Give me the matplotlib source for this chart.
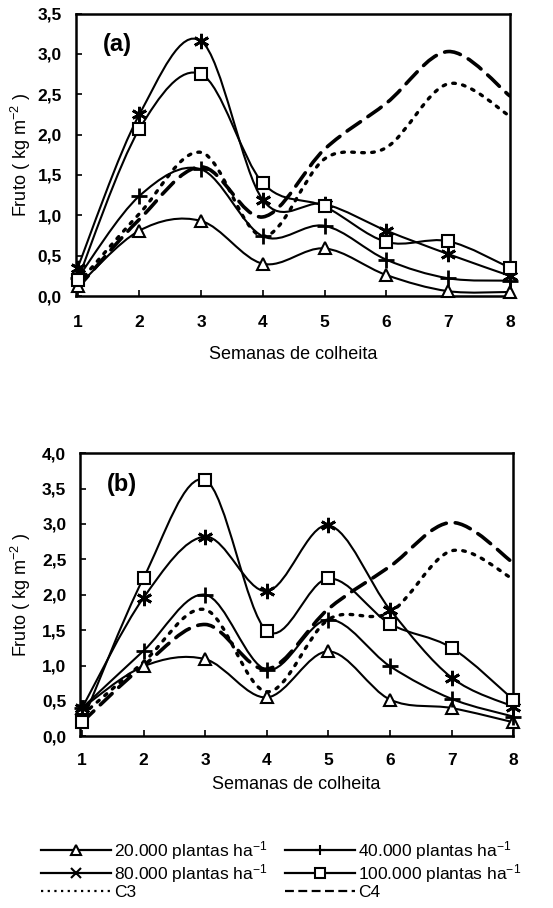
import matplotlib
matplotlib.use("Agg")
import matplotlib.pyplot as plt
from matplotlib.path import Path
from matplotlib.patches import PathPatch
from matplotlib.lines import Line2D
from matplotlib.ticker import FuncFormatter

plt.rcParams['font.family'] = ['Liberation Sans', 'DejaVu Sans']
plt.rcParams['mathtext.default'] = 'regular'

weeks = [1, 2, 3, 4, 5, 6, 7, 8]

# Panel (a)
a_20k = [0.12, 0.81, 0.93, 0.40, 0.59, 0.26, 0.06, 0.05]
a_40k = [0.22, 1.24, 1.57, 0.74, 0.87, 0.45, 0.22, 0.19]
a_80k = [0.35, 2.25, 3.16, 1.19, 1.14, 0.81, 0.52, 0.25]
a_100k = [0.20, 2.07, 2.75, 1.40, 1.11, 0.67, 0.68, 0.35]
a_c3 = [0.15, 1.02, 1.78, 0.74, 1.70, 1.84, 2.63, 2.23]
a_c4 = [0.10, 0.95, 1.60, 0.98, 1.82, 2.39, 3.03, 2.48]

# Panel (b)
b_20k = [0.40, 0.99, 1.09, 0.55, 1.20, 0.52, 0.40, 0.20]
b_40k = [0.40, 1.21, 2.00, 0.94, 1.65, 0.99, 0.53, 0.28]
b_80k = [0.40, 1.96, 2.82, 2.05, 2.98, 1.79, 0.83, 0.42]
b_100k = [0.20, 2.24, 3.62, 1.49, 2.23, 1.59, 1.25, 0.52]
b_c3 = [0.30, 1.05, 1.79, 0.63, 1.65, 1.75, 2.62, 2.22]
b_c4 = [0.20, 1.00, 1.58, 0.95, 1.80, 2.40, 3.02, 2.45]

labels = ["20.000 plantas ha$^{-1}$", "40.000 plantas ha$^{-1}$",
          "80.000 plantas ha$^{-1}$", "100.000 plantas ha$^{-1}$", "C3", "C4"]
ytick_a = [0.0, 0.5, 1.0, 1.5, 2.0, 2.5, 3.0, 3.5]
ytick_b = [0.0, 0.5, 1.0, 1.5, 2.0, 2.5, 3.0, 3.5, 4.0]


def smooth_path(xs, ys):
    pts = list(zip(xs, ys))
    n = len(pts)
    verts = [pts[0]]
    codes = [Path.MOVETO]
    for i in range(n - 1):
        p0 = pts[i - 1] if i > 0 else pts[i]
        p1 = pts[i]
        p2 = pts[i + 1]
        p3 = pts[i + 2] if i + 2 < n else pts[i + 1]
        c1 = (p1[0] + (p2[0] - p0[0]) / 6.0, p1[1] + (p2[1] - p0[1]) / 6.0)
        c2 = (p2[0] - (p3[0] - p1[0]) / 6.0, p2[1] - (p3[1] - p1[1]) / 6.0)
        verts += [c1, c2, p2]
        codes += [Path.CURVE4, Path.CURVE4, Path.CURVE4]
    return Path(verts, codes)


styles = [
    dict(ls='-', lw=1.5, marker='^', ms=8, mew=1.5),
    dict(ls='-', lw=1.5, marker='+', ms=11, mew=2.0),
    dict(ls='-', lw=1.5, marker=(6, 2, 0), ms=11, mew=2.0),
    dict(ls='-', lw=1.5, marker='s', ms=9, mew=1.5),
    dict(ls=(0, (0.8, 2.2)), lw=2.4, marker=None, ms=0, mew=0),
    dict(ls=(0, (4.5, 2.5)), lw=2.6, marker=None, ms=0, mew=0),
]

fmt = FuncFormatter(lambda v, p: f"{v:.1f}".replace('.', ','))

fig = plt.figure(figsize=(5.53, 9.08), dpi=100)
ax_a = fig.add_axes([0.137, 0.674, 0.785, 0.311])
ax_b = fig.add_axes([0.145, 0.189, 0.783, 0.312])


def draw(ax, series, yticks, tag, xpad, xlabelpad, ylabx):
    order = [4, 5, 0, 1, 2, 3]
    for k in order:
        ys = series[k]
        st = styles[k]
        patch = PathPatch(smooth_path(weeks, ys), fill=False, edgecolor='black',
                          lw=st['lw'], linestyle=st['ls'], capstyle='round',
                          transform=ax.transData, zorder=2)
        ax.add_patch(patch)
        if st['marker'] is not None:
            ax.plot(weeks, ys, linestyle='none', marker=st['marker'], ms=st['ms'],
                    mew=st['mew'], mfc='white', mec='black', zorder=3, clip_on=False)
    ax.set_xlim(0.97, 8.0)
    ax.set_ylim(yticks[0], yticks[-1])
    ax.set_xticks(weeks)
    ax.set_yticks(yticks)
    ax.yaxis.set_major_formatter(fmt)
    ax.tick_params(direction='in', length=4, width=1.2, labelsize=12.5)
    ax.tick_params(axis='x', pad=xpad)
    ax.tick_params(axis='y', pad=10)
    for lab in ax.get_xticklabels() + ax.get_yticklabels():
        lab.set_fontweight('bold')
    for sp in ax.spines.values():
        sp.set_linewidth(1.8)
    ax.set_xlabel("Semanas de colheita", fontsize=13, labelpad=xlabelpad)
    ax.set_ylabel("Fruto ( kg m$^{-2}$ )", fontsize=13)
    ax.yaxis.set_label_coords(ylabx, 0.5)
    ax.text(0.062, 0.89, tag, transform=ax.transAxes, fontsize=17,
            fontweight='bold', va='center', ha='left')


draw(ax_a, [a_20k, a_40k, a_80k, a_100k, a_c3, a_c4], ytick_a, "(a)", 14, 11, -0.099)
draw(ax_b, [b_20k, b_40k, b_80k, b_100k, b_c3, b_c4], ytick_b, "(b)", 12, 6, -0.109)

handles = []
leg_markers = ['^', '+', 'x', 's', None, None]
leg_ls = ['-', '-', '-', '-', (0, (1, 2)), (0, (4, 2))]
for k in range(6):
    handles.append(Line2D([0], [0], color='black', lw=1.6, linestyle=leg_ls[k],
                          marker=leg_markers[k], ms=7, mew=1.5, mfc='white', mec='black'))

order = [0, 2, 4, 1, 3, 5]
fig.legend([handles[i] for i in order], [labels[i] for i in order],
           loc='upper left', bbox_to_anchor=(0.075, 0.076),
           ncol=2, frameon=False, fontsize=12.5, handlelength=4.0, handletextpad=0.2,
           columnspacing=1.0, labelspacing=0.0, borderaxespad=0, borderpad=0)

fig.savefig("out.png", dpi=100)
